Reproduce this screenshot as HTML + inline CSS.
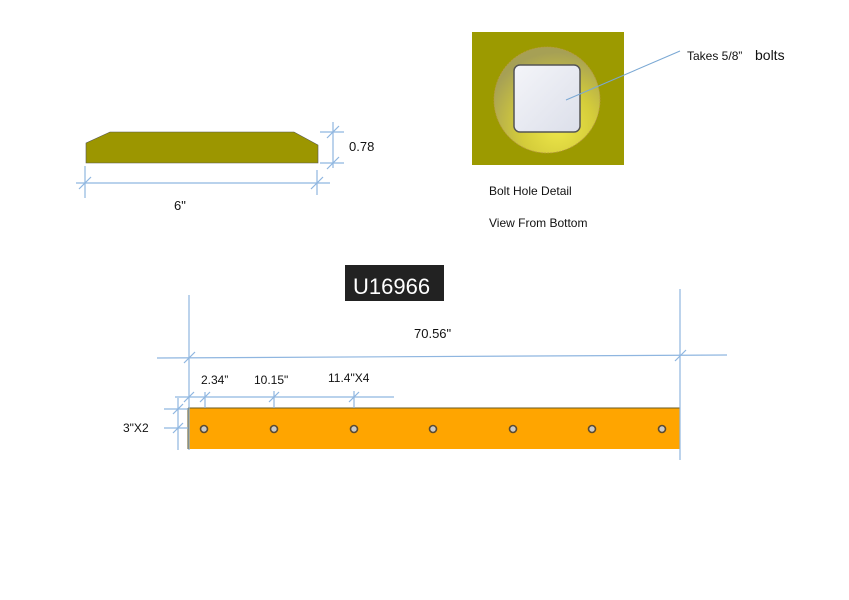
<!DOCTYPE html>
<html><head><meta charset="utf-8"><style>
html,body{margin:0;padding:0;background:#fff;width:849px;height:600px;overflow:hidden}
svg{display:block}
text{font-family:"Liberation Sans",sans-serif;fill:#111}
</style></head><body>
<svg width="849" height="600" viewBox="0 0 849 600" xmlns="http://www.w3.org/2000/svg">
<defs>
<radialGradient id="g1" cx="0.6" cy="0.75" r="0.7">
<stop offset="0" stop-color="#efe84a"/><stop offset="0.5" stop-color="#d4cc3a"/><stop offset="1" stop-color="#a6a055"/>
</radialGradient>
<linearGradient id="g2" x1="0" y1="0" x2="1" y2="1"><stop offset="0" stop-color="#f4f5f9"/><stop offset="1" stop-color="#dcdfea"/></linearGradient>
</defs>
<!-- side profile -->
<polygon points="86,143 110,132 294,132 318,145 318,163 86,163" fill="#9c9600" stroke="#555" stroke-width="0.6"/>
<g stroke="#8fb6e0" stroke-width="1.2" fill="none">
<line x1="76" y1="183" x2="330" y2="183"/>
<line x1="85" y1="166" x2="85" y2="198"/>
<line x1="317" y1="170" x2="317" y2="195"/>
<line x1="79" y1="189" x2="91" y2="177"/>
<line x1="311" y1="189" x2="323" y2="177"/>
<line x1="333" y1="122" x2="333" y2="168"/>
<line x1="320" y1="132" x2="344" y2="132"/>
<line x1="320" y1="163" x2="344" y2="163"/>
<line x1="327" y1="138" x2="339" y2="126"/>
<line x1="327" y1="169" x2="339" y2="157"/>
</g>
<text x="174" y="210" font-size="13">6"</text>
<text x="349" y="151" font-size="13">0.78</text>
<!-- bolt detail -->
<rect x="472" y="32" width="152" height="133" fill="#9c9a00"/>
<circle cx="547" cy="100" r="53" fill="url(#g1)" stroke="#b89a40" stroke-width="0.8" stroke-dasharray="2,1"/>
<rect x="514" y="65" width="66" height="67" rx="6" fill="url(#g2)" stroke="#555" stroke-width="1.5"/>
<line x1="566" y1="100" x2="680" y2="51" stroke="#7aa8d4" stroke-width="1"/>
<text x="687" y="60" font-size="12">Takes 5/8”</text>
<text x="755" y="60" font-size="14">bolts</text>
<text x="489" y="195" font-size="12">Bolt Hole Detail</text>
<text x="489" y="227" font-size="12">View From Bottom</text>
<!-- part number -->
<rect x="345" y="265" width="99" height="36" fill="#222"/>
<text x="353" y="294" font-size="22" style="fill:#fff">U16966</text>
<text x="414" y="338" font-size="13">70.56"</text>
<!-- bar -->
<rect x="188" y="408" width="492" height="41" fill="#ffa500"/>
<line x1="188" y1="408" x2="680" y2="408" stroke="#6a5a20" stroke-width="1"/>
<line x1="188" y1="408" x2="188" y2="449" stroke="#6a5a20" stroke-width="1"/>
<g fill="#c8c8c8" stroke="#5a4a30" stroke-width="1.6">
<circle cx="204" cy="429" r="3.5"/><circle cx="274" cy="429" r="3.5"/><circle cx="354" cy="429" r="3.5"/>
<circle cx="433" cy="429" r="3.5"/><circle cx="513" cy="429" r="3.5"/><circle cx="592" cy="429" r="3.5"/><circle cx="662" cy="429" r="3.5"/>
</g>
<g stroke="#8fb6e0" stroke-width="1.2" fill="none">
<line x1="189" y1="295" x2="189" y2="450"/>
<line x1="680" y1="289" x2="680" y2="460"/>
<line x1="157" y1="358" x2="727" y2="355"/>
<line x1="184" y1="363" x2="195" y2="352"/>
<line x1="675" y1="361" x2="686" y2="350"/>
<line x1="175" y1="397" x2="394" y2="397"/>
<line x1="205" y1="392" x2="205" y2="408"/>
<line x1="274" y1="391" x2="274" y2="408"/>
<line x1="354" y1="391" x2="354" y2="408"/>
<line x1="184" y1="402" x2="194" y2="392"/>
<line x1="200" y1="402" x2="210" y2="392"/>
<line x1="269" y1="402" x2="279" y2="392"/>
<line x1="349" y1="402" x2="359" y2="392"/>
<line x1="178" y1="398" x2="178" y2="450"/>
<line x1="164" y1="409" x2="188" y2="409"/>
<line x1="164" y1="428" x2="188" y2="428"/>
<line x1="173" y1="414" x2="183" y2="404"/>
<line x1="173" y1="433" x2="183" y2="423"/>
</g>
<text x="201" y="384" font-size="12">2.34”</text>
<text x="254" y="384" font-size="12">10.15"</text>
<text x="328" y="382" font-size="12">11.4"X4</text>
<text x="123" y="432" font-size="12">3"X2</text>
</svg>
</body></html>
